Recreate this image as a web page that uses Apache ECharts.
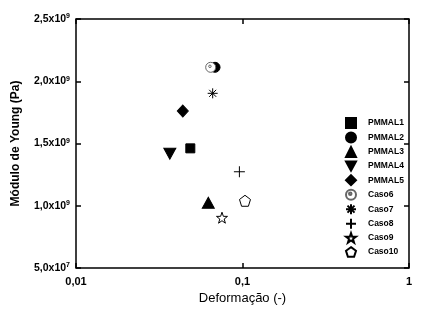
<!DOCTYPE html>
<html>
<head>
<meta charset="utf-8">
<script src="https://cdn.jsdelivr.net/npm/echarts@6/dist/echarts.min.js"></script>
<style>
  html, body { margin: 0; padding: 0; background: #fff; }
  #chart { width: 429px; height: 316px; }
</style>
</head>
<body>
<div id="chart"></div>
<script>
// valores
const seriesNames = ['PMMAL1', 'PMMAL2', 'PMMAL3', 'PMMAL4', 'PMMAL5', 'Caso6', 'Caso7', 'Caso8', 'Caso9', 'Caso10'];
const deformacao = [0.0486, 0.0684, 0.0623, 0.0366, 0.0438, 0.0644, 0.0662, 0.0958, 0.0753, 0.1035];
const moduloYoung = [1.461e9, 2.112e9, 1.024e9, 1.418e9, 1.761e9, 2.112e9, 1.903e9, 1.273e9, 0.904e9, 1.04e9];
const yTickMant = ['5,0', '1,0', '1,5', '2,0', '2,5'];
const yTickExp = ['7', '9', '9', '9', '9'];
const xTickLabels = { 0.01: '0,01', 0.1: '0,1', 1: '1' };

const FONT = 'Liberation Sans, Arial, sans-serif';

const symbols = [
  { symbol: 'rect', size: 9, fill: '#000', stroke: '#000' },
  { symbol: 'circle', size: 10, fill: '#000', stroke: '#000' },
  { symbol: 'triangle', size: [12, 11], fill: '#000', stroke: '#000' },
  { symbol: 'path://M0,0L12,0L6,11Z', size: [12, 11], fill: '#000', stroke: '#000' },
  { symbol: 'diamond', size: [11, 12], fill: '#000', stroke: '#000' },
  { symbol: 'path://M0,10A10,10,0,1,1,20,10A10,10,0,1,1,0,10ZM6,8A2.5,2.5,0,1,1,11,8A2.5,2.5,0,1,1,6,8Z', size: 10, fill: '#fff', stroke: '#666' },
  { symbol: 'path://M0,5L10,5M5,0L5,10M1.5,1.5L8.5,8.5M8.5,1.5L1.5,8.5', size: 10, fill: 'transparent', stroke: '#000' },
  { symbol: 'path://M0,5L10,5M5,0L5,10', size: 11, fill: 'transparent', stroke: '#000' },
  { symbol: 'path://M10,0L12.35,6.76L19.51,6.91L13.8,11.24L15.88,18.09L10,14L4.12,18.09L6.2,11.24L0.49,6.91L7.65,6.76Z', size: 11, fill: '#fff', stroke: '#000' },
  { symbol: 'path://M10,0L19.51,6.91L15.88,18.09L4.12,18.09L0.49,6.91Z', size: 11, fill: '#fff', stroke: '#000' },
];

const series = seriesNames.map((name, i) => ({
  name,
  type: 'scatter',
  symbol: symbols[i].symbol,
  symbolSize: symbols[i].size,
  itemStyle: {
    color: symbols[i].fill,
    borderColor: symbols[i].stroke,
    borderWidth: 1,
    opacity: 1,
  },
  data: [[deformacao[i], moduloYoung[i]]],
}));

const tickStyle = { show: true, inside: true, length: 5, lineStyle: { color: '#000', width: 1.5 } };

const chart = echarts.init(document.getElementById('chart'));
chart.setOption({
  animation: false,
  backgroundColor: '#fff',
  grid: {
    left: 76, right: 20, top: 19, bottom: 48,
    outerBoundsMode: 'none',
    show: true, borderColor: '#000', borderWidth: 1.5,
  },
  legend: {
    orient: 'vertical',
    left: 340,
    top: 112,
    itemWidth: 10,
    itemHeight: 10,
    itemGap: 2.5,
    data: seriesNames,
    textStyle: {
      fontFamily: FONT, fontSize: 8.5, fontWeight: 'bold', color: '#000',
      lineHeight: 10, padding: [0, 0, 0, 7],
    },
  },
  xAxis: [
    {
      type: 'log', logBase: 10, min: 0.01, max: 1,
      name: 'Deformação (-)', nameLocation: 'middle', nameGap: 21,
      nameTextStyle: { fontFamily: FONT, fontSize: 13, color: '#000' },
      axisLine: { show: false },
      axisTick: tickStyle,
      splitLine: { show: false },
      axisLabel: {
        fontFamily: FONT, fontSize: 11, fontWeight: 'bold', color: '#000', margin: 8,
        formatter: (v) => xTickLabels[v] || '',
      },
    },
    {
      type: 'log', logBase: 10, min: 0.01, max: 1, position: 'top',
      axisLine: { show: false }, axisTick: tickStyle, axisLabel: { show: false }, splitLine: { show: false },
    },
  ],
  yAxis: [
    {
      type: 'value', min: 5e8, max: 2.5e9, interval: 5e8,
      name: 'Módulo de Young (Pa)', nameLocation: 'middle', nameGap: 54,
      nameTextStyle: { fontFamily: FONT, fontSize: 12, fontWeight: 'bold', color: '#000' },
      axisLine: { show: false },
      axisTick: tickStyle,
      splitLine: { show: false },
      axisLabel: {
        margin: 6,
        formatter: (v) => {
          const i = Math.round((v - 5e8) / 5e8);
          return '{m|' + yTickMant[i] + 'x10}{e|' + yTickExp[i] + '}';
        },
        rich: {
          m: { fontFamily: FONT, fontSize: 10.5, fontWeight: 'bold', color: '#000' },
          e: { fontFamily: FONT, fontSize: 7, fontWeight: 'bold', color: '#000', verticalAlign: 'top', padding: [0, 0, 5, 0] },
        },
      },
    },
    {
      type: 'value', min: 5e8, max: 2.5e9, interval: 5e8, position: 'right',
      axisLine: { show: false }, axisTick: tickStyle, axisLabel: { show: false }, splitLine: { show: false },
    },
  ],
  series,
});
</script>
</body>
</html>
